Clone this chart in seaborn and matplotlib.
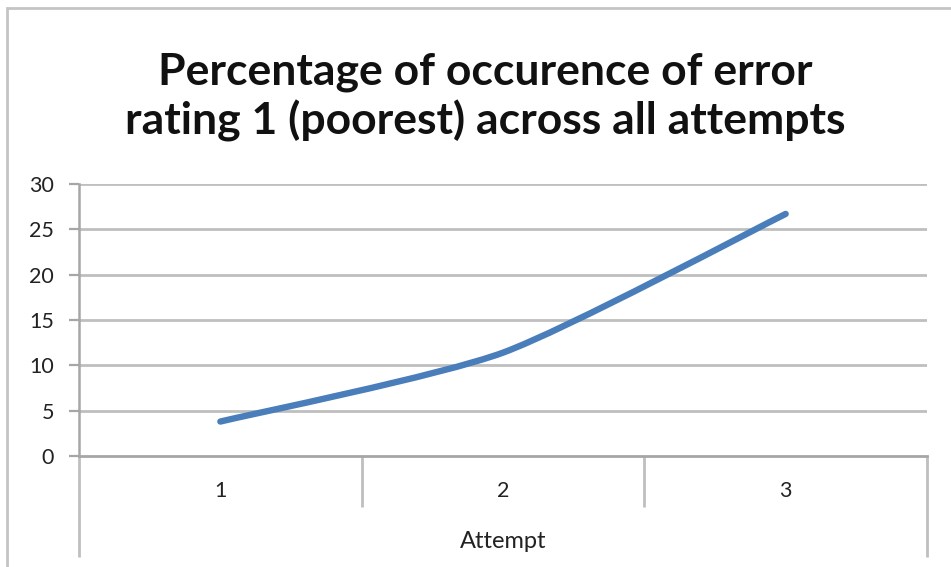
import numpy as np
import pandas as pd
import matplotlib
matplotlib.use("Agg")
import matplotlib.pyplot as plt
from matplotlib.path import Path
from matplotlib.patches import PathPatch, Rectangle
from matplotlib.transforms import blended_transform_factory
import seaborn as sns

# Data
attempts = ["1", "2", "3"]
pct_rating1 = [3.8, 11.4, 26.7]
y_ticks = [0, 5, 10, 15, 20, 25, 30]

title_text = "Percentage of occurence of error\nrating 1 (poorest) across all attempts"
x_label = "Attempt"

sns.set_theme(style="white")
plt.rcParams["font.family"] = ["Lato", "DejaVu Sans"]

GRID = "#bfbfbf"
AXIS = "#a6a6a6"
LINE = "#4a7ebb"
TEXT = "#222222"
SMALL = 15.5

W, H = 951, 567
fig = plt.figure(figsize=(W / 100, H / 100), dpi=100)
fig.patch.set_facecolor("white")

# outer chart frame
fig.patches.append(Rectangle((7 / W, -0.05), 1.2, 1 - 8 / H + 0.05,
                             transform=fig.transFigure, fill=False,
                             edgecolor="#c4c4c4", linewidth=2.0))

left, right = 79 / W, 927 / W
bottom, top = 1 - 456 / H, 1 - 184 / H
ax = fig.add_axes([left, bottom, right - left, top - bottom])

df = pd.DataFrame({"x": np.arange(len(attempts)), "y": pct_rating1})
sns.lineplot(data=df, x="x", y="y", ax=ax, color=LINE, linewidth=4.6)

# Lightly smoothed series line: cubic Bezier segments through the points
line = ax.lines[0]
pts = line.get_xydata()
ext = np.vstack([pts[0], pts, pts[-1]])
tension = 1 / 9.0
verts = [tuple(pts[0])]
codes = [Path.MOVETO]
for i in range(len(pts) - 1):
    p_prev, p0, p1, p_next = ext[i], ext[i + 1], ext[i + 2], ext[i + 3]
    c1 = p0 + (p1 - p_prev) * tension
    c2 = p1 - (p_next - p0) * tension
    verts += [tuple(c1), tuple(c2), tuple(p1)]
    codes += [Path.CURVE4] * 3
patch = PathPatch(Path(verts, codes), fill=False, edgecolor=LINE,
                  linewidth=line.get_linewidth(), capstyle="round",
                  joinstyle="round", zorder=3)
line.remove()
ax.add_patch(patch)

ax.set_xlim(-0.5, len(attempts) - 0.5)
ax.set_ylim(0, 30)
ax.set_yticks(y_ticks)
ax.set_yticklabels([str(v) for v in y_ticks], fontsize=SMALL, color=TEXT)
ax.set_xticks(range(len(attempts)))
ax.set_xticklabels(attempts, fontsize=SMALL, color=TEXT)
ax.tick_params(axis="x", length=0, pad=18)
ax.tick_params(axis="y", length=7, width=1.6, color=AXIS, pad=11, direction="out", left=True)
ax.set_xlabel("")
ax.set_ylabel("")

for y in y_ticks[1:]:
    ax.axhline(y, color=GRID, linewidth=2.0, zorder=1)

for s in ["top", "right"]:
    ax.spines[s].set_visible(False)
ax.spines["left"].set_color(AXIS)
ax.spines["left"].set_linewidth(1.8)
ax.spines["bottom"].set_color(AXIS)
ax.spines["bottom"].set_linewidth(2.0)

# category table lines below the axis
trans = blended_transform_factory(ax.transData, ax.transAxes)
px = 1 / (456 - 184)
for xb in np.arange(0.5, len(attempts) - 0.5, 1.0):
    ax.plot([xb, xb], [0, -(507 - 456) * px], transform=trans, color=GRID,
            linewidth=2.0, clip_on=False, solid_capstyle="butt")
for xb in [-0.5, len(attempts) - 0.5]:
    ax.plot([xb, xb], [0, -(557 - 456) * px], transform=trans, color=GRID,
            linewidth=2.0, clip_on=False, solid_capstyle="butt")

ax.text(0.5, -(541 - 456) * px, x_label, transform=ax.transAxes,
        ha="center", va="center", fontsize=SMALL + 1.5, color=TEXT)

fig.text(485 / W, 1 - 97 / H, title_text, ha="center", va="center",
         fontsize=32, fontweight="bold", color="#111111", linespacing=1.2)

fig.savefig("out.png", dpi=100, facecolor="white")
